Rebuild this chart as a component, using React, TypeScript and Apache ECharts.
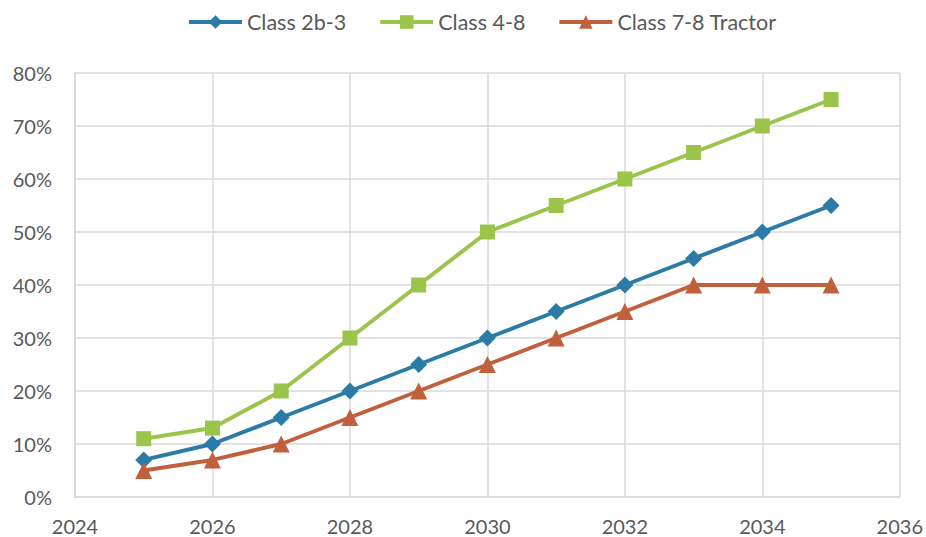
import React, { useEffect, useRef } from "react";
import * as echarts from "echarts";

const years = [2025, 2026, 2027, 2028, 2029, 2030, 2031, 2032, 2033, 2034, 2035];
const class2b3 = [7, 10, 15, 20, 25, 30, 35, 40, 45, 50, 55];
const class48 = [11, 13, 20, 30, 40, 50, 55, 60, 65, 70, 75];
const class78 = [5, 7, 10, 15, 20, 25, 30, 35, 40, 40, 40];
const seriesNames = ["Class 2b-3", "Class 4-8", "Class 7-8 Tractor"];

const FONT = "Lato, 'Open Sans', sans-serif";
const GRID = "#D9D9D9";
const TEXT = "#595959";

export default function App() {
  const ref = useRef<HTMLDivElement>(null);
  useEffect(() => {
    document.body.style.margin = "0";
    const chart = echarts.init(ref.current!, undefined, { renderer: "svg" });
    const mk = (name: string, vals: number[], color: string, symbol: string, size: number) => ({
      name,
      type: "line",
      data: years.map((y, i) => [y, vals[i]]),
      symbol,
      symbolSize: size,
      lineStyle: { width: 4, color },
      itemStyle: { color },
      z: 3,
    });
    chart.setOption({
      animation: false,
      textStyle: { fontFamily: FONT },
      legend: {
        top: 6,
        left: 182,
        itemWidth: 53,
        itemHeight: 17,
        itemGap: 32,
        lineStyle: { width: 4 },
        textStyle: { fontSize: 21.5, color: TEXT, fontFamily: FONT },
        data: seriesNames,
      },
      grid: { left: 75, right: 26, top: 73, bottom: 40, containLabel: false },
      xAxis: {
        type: "value",
        min: 2024,
        max: 2036,
        interval: 2,
        axisLine: { show: true, lineStyle: { color: GRID, width: 1.5 } },
        axisTick: { show: false },
        splitLine: { show: true, lineStyle: { color: GRID, width: 1.5 } },
        axisLabel: { color: TEXT, fontSize: 20, margin: 19, fontFamily: FONT, formatter: (v: number) => String(v) },
      },
      yAxis: {
        type: "value",
        min: 0,
        max: 80,
        interval: 10,
        axisLine: { show: true, lineStyle: { color: GRID, width: 1.5 } },
        axisTick: { show: false },
        splitLine: { show: true, lineStyle: { color: GRID, width: 1.5 } },
        axisLabel: { color: TEXT, fontSize: 20, margin: 23, fontFamily: FONT, formatter: (v: number) => v + "%" },
      },
      series: [
        mk(seriesNames[0], class2b3, "#2B7BA6", "diamond", 17),
        mk(seriesNames[1], class48, "#9BC54A", "rect", 15),
        mk(seriesNames[2], class78, "#C0603C", "triangle", 17),
      ],
    });
    return () => chart.dispose();
  }, []);
  return <div ref={ref} style={{ width: 926, height: 537 }} />;
}
